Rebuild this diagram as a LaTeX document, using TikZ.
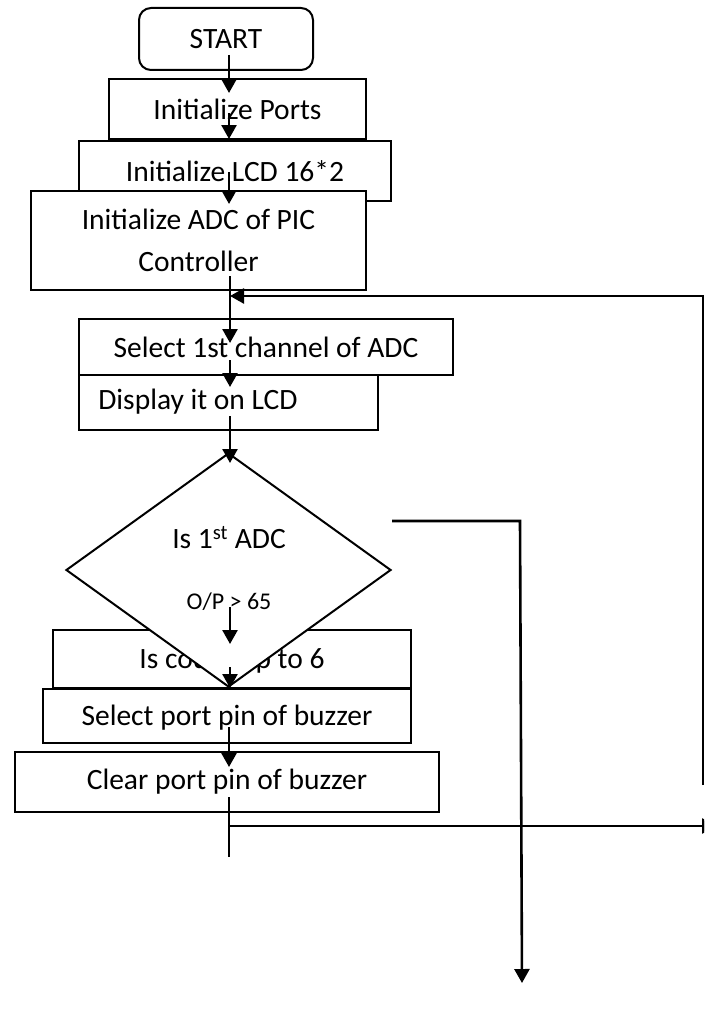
\documentclass[tikz,border=0pt]{standalone}
\usepackage{fontspec}
\setmainfont{Carlito}
\usetikzlibrary{arrows.meta,shapes.geometric}
\tikzset{
  box/.style={draw, line width=2pt, fill=white, inner sep=0pt, font=\fontsize{29.5}{34}\selectfont},
  txt/.style={inner sep=0pt, font=\fontsize{29.5}{34}\selectfont},
  small/.style={inner sep=0pt, font=\fontsize{24}{28}\selectfont},
  arr/.style={line width=2.6pt, -{Triangle[length=14pt,width=15pt]}},
  ln/.style={line width=2.6pt}
}
\begin{document}
\begin{tikzpicture}[x=1pt,y=-1pt]
\useasboundingbox (0,0) rectangle (704,1025);
\clip (0,0) rectangle (704,1025);
\fill[white] (0,0) rectangle (704,1025);

% boxes
\node[box, rounded corners=12pt, minimum width=174pt, minimum height=62pt] (start) at (226,39) {START};
\node[box, minimum width=257pt, minimum height=60pt] (ports) at (237.5,109) {Initialize Ports};
\node[box, minimum width=312pt, minimum height=60pt] (lcd) at (235,171) {Initialize LCD 16*2};
\node[box, minimum width=335pt, minimum height=99pt, align=center, font=\fontsize{29.5}{42}\selectfont] (adc) at (198.5,240.5) {Initialize ADC of PIC\\Controller};
\node[box, minimum width=374pt, minimum height=56pt] (sel) at (266,347) {Select 1st channel of ADC};
\node[box, minimum width=299pt, minimum height=55pt] (disp) at (228.5,402.5) {};
\node[txt] (disptxt) at (198,402) {Display it on LCD};
\node[box, minimum width=358pt, minimum height=58pt] (count) at (232,659) {};
\node[txt] (counttxt) at (232,661) {Is count up to 6};
\node[draw, shape=diamond, line width=2pt, fill=white, inner sep=0pt, minimum width=325pt, minimum height=234pt] (dec) at (228.5,570) {};
\node[txt] (dectxt1) at (229,538) {Is 1\textsuperscript{st} ADC};
\node[small] (dectxt2) at (229,602) {O/P > 65};
\node[box, minimum width=368pt, minimum height=54pt] (selport) at (227,716) {};
\node[txt] (selporttxt) at (227,718) {Select port pin of buzzer};
\node[box, minimum width=424pt, minimum height=60pt] (clr) at (227,782) {Clear port pin of buzzer};

% connector end points
\coordinate (a1s) at (229,55);  \coordinate (a1e) at (229,93);
\coordinate (a2s) at (229,113); \coordinate (a2e) at (229,139);
\coordinate (a3s) at (229,172); \coordinate (a3e) at (229,204);
\coordinate (a4s) at (230,276); \coordinate (a4e) at (230,343);
\coordinate (a5s) at (230,360); \coordinate (a5e) at (230,387);
\coordinate (a6s) at (230,416); \coordinate (a6e) at (230,463);
\coordinate (a7s) at (230,607); \coordinate (a7e) at (230,644);
\coordinate (a8s) at (230,667); \coordinate (a8e) at (230,688);
\coordinate (a9s) at (229,727); \coordinate (a9e) at (229,767);
\coordinate (ls) at (229,797);  \coordinate (le) at (229,857);
\coordinate (hs) at (229,826);  \coordinate (he) at (716,826);
\coordinate (rvb) at (703,785); \coordinate (rvt) at (703,296); \coordinate (join) at (230,296);
\coordinate (bs) at (392,521);  \coordinate (bc) at (520,521); \coordinate (be) at (522,983);

% connectors
\draw[arr] (a1s) -- (a1e);
\draw[arr] (a2s) -- (a2e);
\draw[arr] (a3s) -- (a3e);
\draw[arr] (a4s) -- (a4e);
\draw[arr] (rvb) -- (rvt) -- (join);
\draw[arr] (a5s) -- (a5e);
\draw[arr] (a6s) -- (a6e);
\draw[arr] (a7s) -- (a7e);
\draw[arr] (a8s) -- (a8e);
\draw[arr] (a9s) -- (a9e);
\draw[ln] (ls) -- (le);
\draw[arr] (hs) -- (he);
\draw[arr] (bs) -- (bc) -- (be);
\end{tikzpicture}
\end{document}
